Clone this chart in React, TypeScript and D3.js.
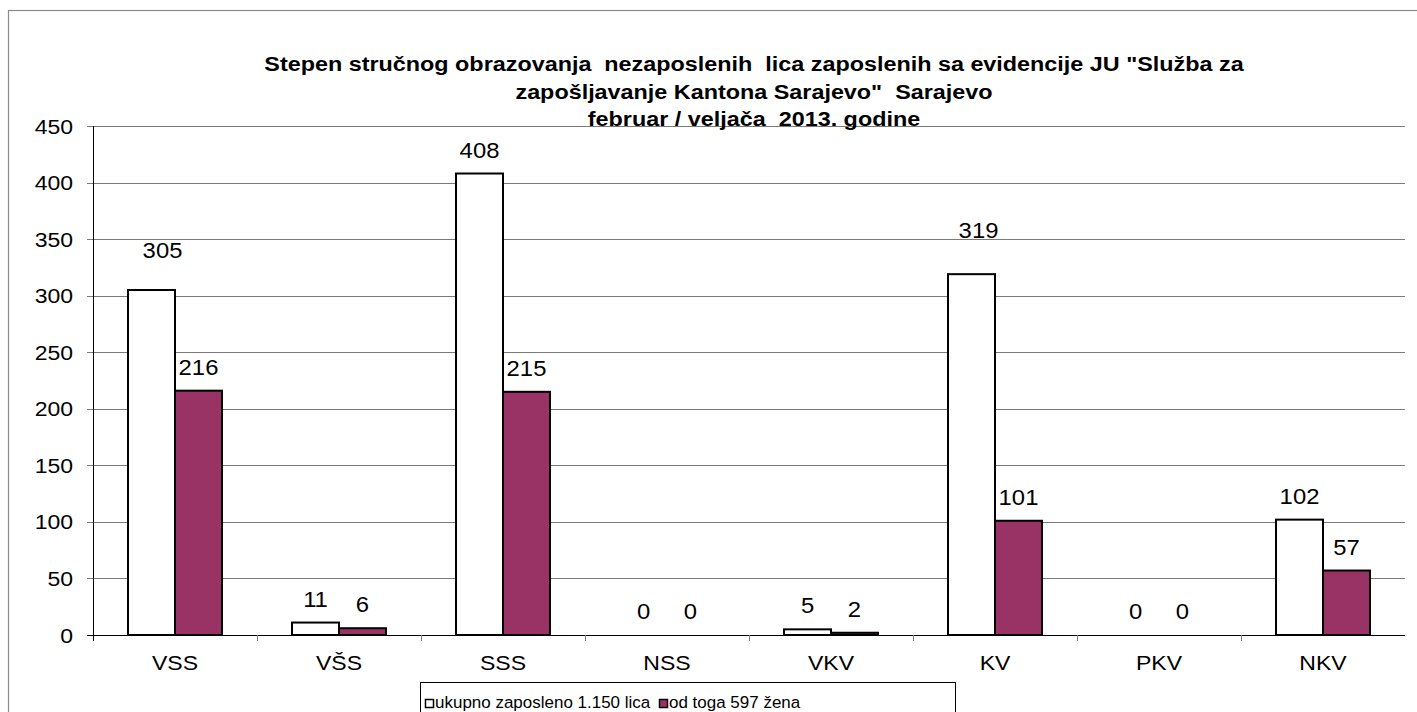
import React from "react";
import * as d3 from "d3";

const categories = ["VSS", "VŠS", "SSS", "NSS", "VKV", "KV", "PKV", "NKV"];
const totalValues = [305, 11, 408, 0, 5, 319, 0, 102];
const womenValues = [216, 6, 215, 0, 2, 101, 0, 57];
const seriesNames = ["ukupno zaposleno 1.150 lica", "od toga 597 žena"];
const yTicks = [0, 50, 100, 150, 200, 250, 300, 350, 400, 450];
const titleLines = [
  "Stepen stručnog obrazovanja  nezaposlenih  lica zaposlenih sa evidencije JU \"Služba za",
  "zapošljavanje Kantona Sarajevo\"  Sarajevo",
  "februar / veljača  2013. godine",
];

// layout: manual label nudges (dx, dy) keyed by series index and category, as in the source chart
const LABEL_NUDGE: Record<string, [number, number]> = {
  "0-VSS": [11, -16],
  "0-KV": [7, -20],
};

const W = 1417;
const H = 712;
const FONT = "Arial, 'Liberation Sans', sans-serif";
const MAROON = "#993366";

const plot = { left: 93, right: 1405, top: 126, bottom: 635 };

export default function App() {
  const x0 = d3.scaleBand<string>().domain(categories).range([plot.left, plot.right]).padding(0);
  const x1 = d3
    .scaleBand<number>()
    .domain([0, 1])
    .range([0, x0.bandwidth()])
    .paddingInner(0)
    .paddingOuter(0.745);
  const y = d3.scaleLinear().domain([0, 450]).range([plot.bottom, plot.top]);

  const series = [
    { values: totalValues, fill: "#ffffff" },
    { values: womenValues, fill: MAROON },
  ];

  const txt = (
    x: number,
    yy: number,
    s: string,
    size: number,
    sx: number,
    anchor: "start" | "middle" | "end",
    bold = false,
    key?: string | number
  ) => (
    <text
      key={key}
      transform={`translate(${x},${yy}) scale(${sx},1)`}
      fontSize={size}
      fontFamily={FONT}
      fontWeight={bold ? "bold" : "normal"}
      textAnchor={anchor}
      fill="#000"
      style={{ whiteSpace: "pre" }}
    >
      {s}
    </text>
  );

  return (
    <svg
      width={W}
      height={H}
      style={{ position: "absolute", left: 0, top: 0, background: "#fff" }}
    >
      {/* outer frame */}
      <rect x={8.5} y={10.5} width={1500} height={800} fill="#fff" stroke="#8c8c8c" strokeWidth={1.2} />

      {/* gridlines */}
      {yTicks.map((t) => (
        <line
          key={"g" + t}
          x1={plot.left - 6}
          x2={plot.right}
          y1={Math.round(y(t)) + 0.5}
          y2={Math.round(y(t)) + 0.5}
          stroke={t === 0 ? "#000" : "#7a7a7a"}
          strokeWidth={1}
        />
      ))}

      {/* title */}
      {titleLines.map((l, i) => txt(754, 71 + i * 27.7, l, 20.5, 1.14, "middle", true, "t" + i))}

      {/* y axis */}
      <line x1={plot.left + 0.5} x2={plot.left + 0.5} y1={plot.top} y2={plot.bottom + 6} stroke="#000" strokeWidth={1} />
      {yTicks.map((t) => txt(73, y(t) + 7.5, String(t), 19.5, 1.18, "end", false, "yl" + t))}

      {/* category ticks */}
      {categories.map((c, i) => (
        <line
          key={"ct" + c}
          x1={Math.round(x0(c)! + x0.bandwidth()) + 0.5}
          x2={Math.round(x0(c)! + x0.bandwidth()) + 0.5}
          y1={plot.bottom}
          y2={plot.bottom + 6}
          stroke={i === categories.length - 1 ? "none" : "#7a7a7a"}
        />
      ))}
      {categories.map((c) => txt(x0(c)! + x0.bandwidth() / 2, 670, c, 19.5, 1.18, "middle", false, "cl" + c))}

      {/* bars */}
      {series.map((s, si) =>
        categories.map((c, i) => {
          const v = s.values[i];
          if (v === 0) return null;
          const bx = x0(c)! + x1(si)!;
          return (
            <rect
              key={"b" + si + c}
              x={bx}
              y={y(v)}
              width={x1.bandwidth()}
              height={plot.bottom - y(v)}
              fill={s.fill}
              stroke="#000"
              strokeWidth={2}
            />
          );
        })
      )}

      {/* data labels */}
      {series.map((s, si) =>
        categories.map((c, i) => {
          const v = s.values[i];
          const [dx, dy] = LABEL_NUDGE[`${si}-${c}`] || [0, 0];
          const cx = x0(c)! + x1(si)! + x1.bandwidth() / 2 + dx;
          return txt(cx, y(v) - 16 + dy, String(v), 22.5, 1.06, "middle", false, "dl" + si + c);
        })
      )}

      {/* legend */}
      <rect x={420.5} y={682.5} width={535} height={60} fill="#fff" stroke="#000" strokeWidth={1} />
      <rect x={425.5} y={699.5} width={8} height={8} fill="#fff" stroke="#000" strokeWidth={1.5} />
      {txt(435, 708, seriesNames[0], 16.5, 1.03, "start", false, "lg0")}
      <rect x={659.5} y={699.5} width={8} height={8} fill={MAROON} stroke="#000" strokeWidth={1.5} />
      {txt(669, 708, seriesNames[1], 16.5, 1.03, "start", false, "lg1")}
    </svg>
  );
}
